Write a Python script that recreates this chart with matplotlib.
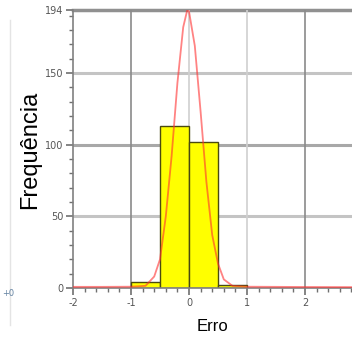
import matplotlib
matplotlib.use("Agg")
import matplotlib.pyplot as plt
from matplotlib.ticker import MultipleLocator

# Histogram bins (left edges, width) and counts
bin_left = [-1.0, -0.5, 0.0, 0.5]
bin_width = 0.5
counts = [4, 113, 102, 2]

# Fitted normal curve
curve_x = [-2.0, -1.5, -1.0, -0.75, -0.6, -0.5, -0.4, -0.3, -0.2, -0.1, -0.03,
           0.0, 0.1, 0.2, 0.3, 0.4, 0.5, 0.6, 0.75, 1.0, 1.5, 2.0, 2.8]
curve_y = [0.8, 0.8, 0.9, 1.5, 8, 20, 50, 92, 143, 182, 194,
           193, 169, 123, 74, 37, 17, 6, 1.5, 0.9, 0.8, 0.7, 0.6]

y_ticks = [0, 50, 100, 150, 194]
x_ticks = [-2, -1, 0, 1, 2]

fig = plt.figure(figsize=(3.52, 3.40), dpi=100)
ax = fig.add_axes([73/352, 1-288/340, 1-73/352, (288-10)/340])
ax.set_xlim(-2, 2.81)
ax.set_ylim(0, 194)

# grid
for yv, c in [(50, '#c4c4c4'), (100, '#a8a8a8'), (150, '#c4c4c4')]:
    ax.axhline(yv, color=c, lw=2.2, zorder=0)
ax.axhline(194, color='#909090', lw=2.5, zorder=0, clip_on=False)
for xv, c in [(-1, '#8a8a8a'), (0, '#d0d0d0'), (1, '#d0d0d0'), (2, '#8a8a8a')]:
    ax.axvline(xv, color=c, lw=1.2, zorder=0)

ax.bar(bin_left, counts, width=bin_width, align='edge', color='#ffff00',
       edgecolor='#4a4a10', lw=1.0, zorder=2)

ax.plot(curve_x, curve_y, color='#ff3030', alpha=0.6, lw=1.3, zorder=3)

for s in ['top', 'right']:
    ax.spines[s].set_visible(False)
ax.spines['left'].set_color('#808080')
ax.spines['bottom'].set_color('#808080')
ax.spines['left'].set_linewidth(1.2)
ax.spines['bottom'].set_linewidth(1.2)

ax.set_yticks(y_ticks)
ax.set_yticklabels([str(v) for v in y_ticks])
ax.yaxis.set_minor_locator(MultipleLocator(10))
ax.set_xticks(x_ticks)
ax.set_xticklabels([str(v) for v in x_ticks])
ax.xaxis.set_minor_locator(MultipleLocator(0.2))
ax.tick_params(axis='both', which='major', length=5, width=1.2, color='#707070',
               labelsize=7, labelcolor='#555555', pad=2)
ax.tick_params(axis='both', which='minor', length=3, width=1.0, color='#707070')

ax.set_xlabel('Erro', fontsize=12, labelpad=8, family='Liberation Sans')
fig.text(30/352, 1-150/340, 'Frequência', rotation=90, fontsize=17,
         ha='center', va='center', family='Liberation Sans')

fig.text(2/352, 1-293/340, '+0', fontsize=6, color='#6080a0', ha='left', va='center')
fig.add_artist(plt.Line2D([10/352, 10/352], [1-20/340, 1-325/340],
                          color='#e4e4e4', lw=1))

fig.savefig('out.png', dpi=100)
